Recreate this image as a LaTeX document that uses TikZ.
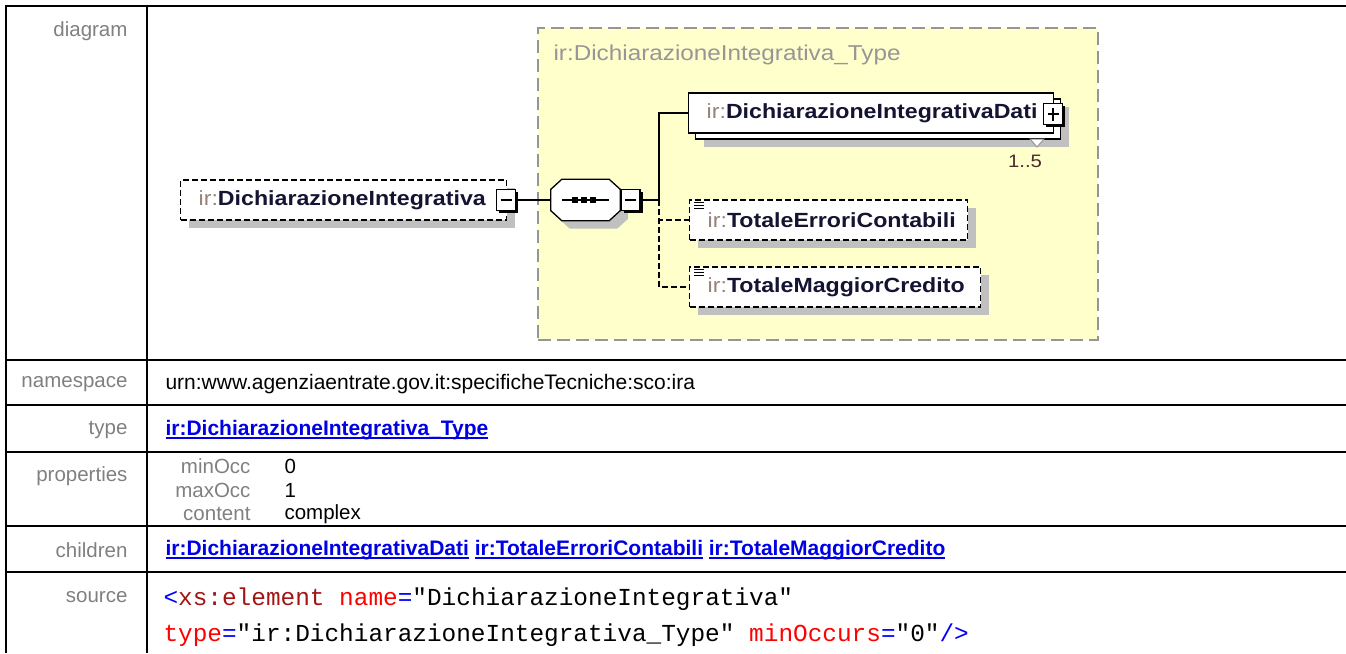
\documentclass[tikz,border=0pt]{standalone}
\usepackage{fontspec}
\setmainfont{Liberation Sans}
\setmonofont{Liberation Mono}
\newfontfamily\dgfont[FakeStretch=1.13]{Liberation Sans}
\usetikzlibrary{positioning}
\usetikzlibrary{shadows}
\definecolor{irgray}{RGB}{150,130,120}
\definecolor{namecol}{RGB}{20,20,50}
\definecolor{cplx}{RGB}{255,255,204}
\definecolor{cplxline}{RGB}{150,150,150}
\definecolor{shade}{RGB}{192,192,192}
\definecolor{labelgray}{RGB}{128,128,128}
\definecolor{lnk}{RGB}{0,0,230}
\definecolor{xmltag}{RGB}{163,21,21}
\definecolor{xmlattr}{RGB}{255,0,0}
\definecolor{xmldelim}{RGB}{0,0,255}
\definecolor{occcol}{RGB}{80,40,40}
\newcommand{\fsz}[1]{\fontsize{#1}{#1}\selectfont}
\newcommand{\irname}[1]{{\color{irgray}ir:}{\color{namecol}\bfseries #1}}
\newsavebox\ulbox
\newcommand{\lnkul}[1]{\sbox\ulbox{#1}\rlap{\usebox\ulbox}\rule[-3.5pt]{\wd\ulbox}{1.6pt}}

\begin{document}
\begin{tikzpicture}[x=1pt, y=-1pt,
    rowlabel/.style={anchor=east, text=labelgray, font=\fsz{20.5}},
    val/.style={anchor=west, font=\fsz{21}},
    rule/.style={line width=2.5},
    elem/.style={draw, fill=white, line width=1.4, anchor=west, minimum height=40, inner xsep=18, inner ysep=0, align=left, font=\dgfont\fsz{20.5}},
    opt/.style={dash pattern=on 6pt off 3pt},
    shd/.style={drop shadow={shadow xshift=8pt, shadow yshift=-8pt, fill=shade, opacity=1}},
    pm/.style={draw, fill=white, line width=1.3, minimum width=19, minimum height=21, inner sep=0, drop shadow={shadow xshift=2.5pt, shadow yshift=-2.5pt, fill=black, opacity=1}},
    minus/.style={pm, path picture={\draw[line width=1.3] ([xshift=4]path picture bounding box.west) -- ([xshift=-4]path picture bounding box.east);}},
    plus/.style={pm, path picture={\draw[line width=1.3] ([xshift=4]path picture bounding box.west) -- ([xshift=-4]path picture bounding box.east) ([yshift=4]path picture bounding box.south) -- ([yshift=-4]path picture bounding box.north);}},
    conn/.style={line width=1.5}
  ]
  \useasboundingbox (0,0) rectangle (1346,653);

  % table
  \draw[rule] (5,6) -- (1346,6);
  \draw[rule] (6,6) -- (6,653);
  \draw[rule] (147,6) -- (147,653);
  \foreach \y in {360,405,452,526,572}
    \draw[rule] (5,\y) -- (1346,\y);

  \node[rowlabel] (ldiag) at (131,31) {diagram};
  \node[rowlabel] (lns) at (131,384) {namespace};
  \node[rowlabel] (ltype) at (131,430) {type};
  \node[rowlabel] (lprop) at (131,476) {properties};
  \node[rowlabel] (lchild) at (131,550) {children};
  \node[rowlabel] (lsrc) at (131,597) {source};

  % complex type
  \node[draw=cplxline, fill=cplx, line width=2, dash pattern=on 13pt off 6pt, minimum width=560, minimum height=312, anchor=north west] (cx) at (537,27) {};
  \node[anchor=west, text=cplxline, font=\dgfont\fsz{21.5}] (cxname) at (550,55) {ir:DichiarazioneIntegrativa\_Type};

  % element
  \node[elem, opt, shd, text width=290] (e1) at (180,200) {\irname{DichiarazioneIntegrativa}};
  \node[minus] (m1) at (506,200) {};

  % sequence
  \node[minimum width=69, minimum height=41, inner sep=0] (seq) at (585.5,200) {};
  \draw[line width=1.3, fill=white, shd] ([xshift=11]seq.north west) -- ([xshift=-11]seq.north east) -- ([yshift=-10]seq.north east) -- ([yshift=10]seq.south east) -- ([xshift=-11]seq.south east) -- ([xshift=11]seq.south west) -- ([yshift=10]seq.south west) -- ([yshift=-10]seq.north west) -- cycle;
  \draw[line width=1.3] ([xshift=11]seq.west) -- ([xshift=-11]seq.east);
  \foreach \i in {-11,-2,7}
    \fill ([xshift=\i]seq.center) ++(-3,-3) rectangle ++(6,6);
  \node[minus] (m2) at (630.5,200) {};
  \coordinate (t) at (659,200);

  % children
  \node[elem, shd, text width=329] (d2) at (695,119) {};
  \node[elem, text width=329] (d) at (688,113) {\irname{DichiarazioneIntegrativaDati}};
  \node[plus] (p) at (1053,114) {};
  \draw[cplxline, fill=white, line width=1] (1030,139) -- (1044,139) -- (1037,147) -- cycle;
  \node[text=occcol, font=\dgfont\fsz{18}] (occ) at (1025,161) {1..5};

  \node[elem, opt, shd, text width=242] (t1) at (689,220) {\irname{TotaleErroriContabili}};
  \node[elem, opt, shd, text width=255] (t2) at (689,287) {\irname{TotaleMaggiorCredito}};
  \foreach \n in {t1,t2}
    \foreach \k in {3,6,9}
      \draw[line width=1.4] ([xshift=5,yshift=-\k]\n.north west) -- ([xshift=15,yshift=-\k]\n.north west);

  \draw[conn] (m1.east) -- (seq.west);
  \draw[conn] (m2.east) -- (t) |- (d.west);
  \draw[conn, opt] (t) |- (t1.west);
  \draw[conn, opt] (t) |- (t2.west);

  % rows
  \node[val] (ns) at (162,384) {urn:www.agenziaentrate.gov.it:specificheTecniche:sco:ira};
  \node[val, text=lnk, font=\fsz{21}\bfseries] (tp) at (162,430) {\lnkul{ir:DichiarazioneIntegrativa\_Type}};

  \node[rowlabel] (pmin) at (254,466) {minOcc};
  \node[rowlabel] (pmax) at (254,490) {maxOcc};
  \node[rowlabel] (pcon) at (254,514) {content};
  \node[val, font=\fsz{20.5}] (vmin) at (281,466) {0};
  \node[val, font=\fsz{20.5}] (vmax) at (281,490) {1};
  \node[val, font=\fsz{20.5}] (vcon) at (281,514) {complex};

  \node[val, text=lnk, font=\fsz{21}\bfseries] (chl) at (162,550) {\lnkul{ir:DichiarazioneIntegrativaDati} \lnkul{ir:TotaleErroriContabili} \lnkul{ir:TotaleMaggiorCredito}};

  \node[val, font=\ttfamily\fsz{24.4}] (src1) at (160,599) {{\color{xmldelim}<}{\color{xmltag}xs:element} {\color{xmlattr}name}{\color{xmldelim}=}"DichiarazioneIntegrativa"};
  \node[val, font=\ttfamily\fsz{24.4}] (src2) at (160,635) {{\color{xmlattr}type}{\color{xmldelim}=}"ir:DichiarazioneIntegrativa\_Type" {\color{xmlattr}minOccurs}{\color{xmldelim}=}"0"{\color{xmldelim}/>}};
\end{tikzpicture}
\end{document}
